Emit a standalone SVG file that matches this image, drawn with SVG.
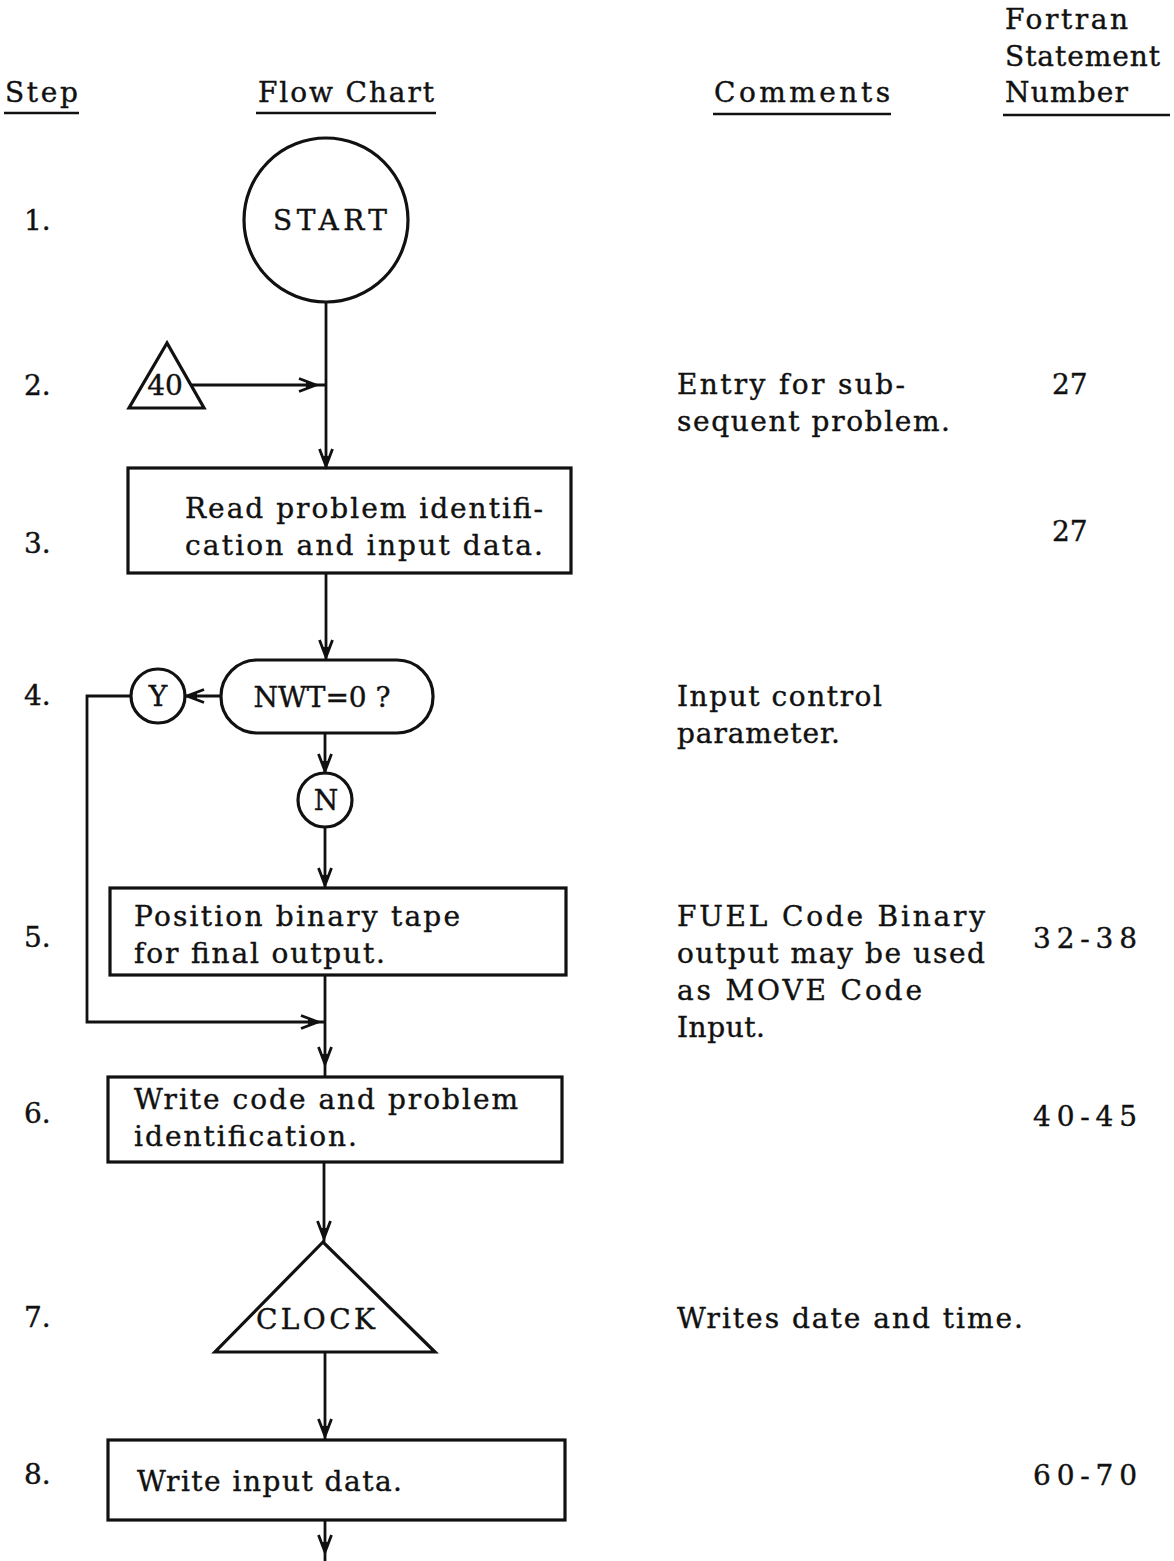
<svg xmlns="http://www.w3.org/2000/svg" xmlns:xlink="http://www.w3.org/1999/xlink" width="1174" height="1561" viewBox="0 0 1174 1561">
<style>
  text { font-family: "DejaVu Serif", "Liberation Serif", serif; font-size: 28px; fill: #111; stroke: #111; stroke-width: 0.4; }
  .shape { fill: none; stroke: #111; stroke-width: 3.2; }
  .line { fill: none; stroke: #111; stroke-width: 2.8; }
  .ul { stroke: #111; stroke-width: 2.6; }
  .mid { text-anchor: middle; }
</style>
<defs>
  <g id="ah">
    <path d="M -6.5 -17 L 0 0 L 6.5 -17" fill="none" stroke="#111" stroke-width="2.8" stroke-linejoin="miter"/>
    <path d="M -3 -10 L 0 0 L 3 -10 Z" fill="#111"/>
  </g>
</defs>
<rect width="1174" height="1561" fill="#fff"/>

<g id="header">
  <text x="5" y="102" textLength="73" lengthAdjust="spacing">Step</text>
  <line class="ul" x1="4" y1="113" x2="79" y2="113"/>
  <text x="258" y="102" textLength="176" lengthAdjust="spacing">Flow Chart</text>
  <line class="ul" x1="256" y1="113" x2="436" y2="113"/>
  <text x="714" y="102" textLength="176" lengthAdjust="spacing">Comments</text>
  <line class="ul" x1="713" y1="114" x2="891" y2="114"/>
  <text x="1005" y="29" textLength="123" lengthAdjust="spacing">Fortran</text>
  <text x="1005" y="66" textLength="155" lengthAdjust="spacing">Statement</text>
  <text x="1005" y="102" textLength="123" lengthAdjust="spacing">Number</text>
  <line class="ul" x1="1003" y1="115" x2="1170" y2="115"/>
</g>

<g id="steps">
  <text x="24" y="230">1.</text>
  <text x="24" y="395">2.</text>
  <text x="24" y="553">3.</text>
  <text x="24" y="705">4.</text>
  <text x="24" y="947">5.</text>
  <text x="24" y="1123">6.</text>
  <text x="24" y="1327">7.</text>
  <text x="24" y="1484">8.</text>
</g>

<g id="connectors">
  <line class="line" x1="326" y1="302" x2="326" y2="468"/>
  <line class="line" x1="192" y1="385" x2="326" y2="385"/>
  <use xlink:href="#ah" transform="translate(316,385) rotate(-90)"/>
  <use xlink:href="#ah" transform="translate(326,466)"/>
  <line class="line" x1="326" y1="573" x2="326" y2="660"/>
  <use xlink:href="#ah" transform="translate(326,657)"/>
  <line class="line" x1="221" y1="696" x2="185" y2="696"/>
  <use xlink:href="#ah" transform="translate(187,696) rotate(90)"/>
  <polyline class="line" points="131,696 87,696 87,1022 326,1022"/>
  <use xlink:href="#ah" transform="translate(318,1022) rotate(-90)"/>
  <line class="line" x1="325" y1="733" x2="325" y2="773"/>
  <use xlink:href="#ah" transform="translate(325,771)"/>
  <line class="line" x1="325" y1="827" x2="325" y2="888"/>
  <use xlink:href="#ah" transform="translate(325,885)"/>
  <line class="line" x1="325" y1="975" x2="325" y2="1077"/>
  <use xlink:href="#ah" transform="translate(325,1064)"/>
  <line class="line" x1="324" y1="1162" x2="324" y2="1242"/>
  <use xlink:href="#ah" transform="translate(324,1238)"/>
  <line class="line" x1="325" y1="1352" x2="325" y2="1440"/>
  <use xlink:href="#ah" transform="translate(325,1436)"/>
  <line class="line" x1="325" y1="1520" x2="325" y2="1561"/>
  <use xlink:href="#ah" transform="translate(325,1552)"/>
</g>

<g id="n1-start">
  <circle class="shape" cx="326" cy="220" r="82"/>
  <text x="330" y="230" class="mid" textLength="114" lengthAdjust="spacing">START</text>
</g>

<g id="n2-entry40">
  <polygon class="shape" points="167,343 129,408 204,408"/>
  <text x="165" y="395" class="mid">40</text>
</g>

<g id="n3-read">
  <rect class="shape" x="128" y="468" width="443" height="105"/>
  <text x="185" y="518" textLength="358" lengthAdjust="spacing">Read problem identifi-</text>
  <text x="185" y="555" textLength="358" lengthAdjust="spacing">cation and input data.</text>
</g>

<g id="n4-decision">
  <rect class="shape" x="221" y="660" width="212" height="73" rx="36" ry="36"/>
  <text x="322" y="707" class="mid">NWT=0 ?</text>
</g>

<g id="n4-yes">
  <circle class="shape" cx="158" cy="696" r="27"/>
  <text x="158" y="706" class="mid">Y</text>
</g>

<g id="n4-no">
  <circle class="shape" cx="325" cy="800" r="27"/>
  <text x="326" y="810" class="mid">N</text>
</g>

<g id="n5-position">
  <rect class="shape" x="110" y="888" width="456" height="87"/>
  <text x="134" y="926" textLength="326" lengthAdjust="spacing">Position binary tape</text>
  <text x="134" y="963" textLength="251" lengthAdjust="spacing">for final output.</text>
</g>

<g id="n6-write-code">
  <rect class="shape" x="108" y="1077" width="454" height="85"/>
  <text x="134" y="1109" textLength="384" lengthAdjust="spacing">Write code and problem</text>
  <text x="134" y="1146" textLength="223" lengthAdjust="spacing">identification.</text>
</g>

<g id="n7-clock">
  <polygon class="shape" points="323,1242 215,1352 435,1352"/>
  <text x="256" y="1329" textLength="119" lengthAdjust="spacing">CLOCK</text>
</g>

<g id="n8-write-input">
  <rect class="shape" x="108" y="1440" width="457" height="80"/>
  <text x="137" y="1491" textLength="265" lengthAdjust="spacing">Write input data.</text>
</g>

<g id="comments">
  <text x="677" y="394" textLength="228" lengthAdjust="spacing">Entry for sub-</text>
  <text x="677" y="431" textLength="273" lengthAdjust="spacing">sequent problem.</text>
  <text x="677" y="706" textLength="205" lengthAdjust="spacing">Input control</text>
  <text x="677" y="743" textLength="163" lengthAdjust="spacing">parameter.</text>
  <text x="677" y="926" textLength="308" lengthAdjust="spacing">FUEL Code Binary</text>
  <text x="677" y="963" textLength="308" lengthAdjust="spacing">output may be used</text>
  <text x="677" y="1000" textLength="245" lengthAdjust="spacing">as MOVE Code</text>
  <text x="677" y="1037" textLength="88" lengthAdjust="spacing">Input.</text>
  <text x="677" y="1328" textLength="346" lengthAdjust="spacing">Writes date and time.</text>
</g>

<g id="statement-numbers">
  <text x="1052" y="394">27</text>
  <text x="1052" y="541">27</text>
  <text x="1033" y="948" textLength="104" lengthAdjust="spacing">32-38</text>
  <text x="1033" y="1126" textLength="104" lengthAdjust="spacing">40-45</text>
  <text x="1033" y="1485" textLength="104" lengthAdjust="spacing">60-70</text>
</g>
</svg>
